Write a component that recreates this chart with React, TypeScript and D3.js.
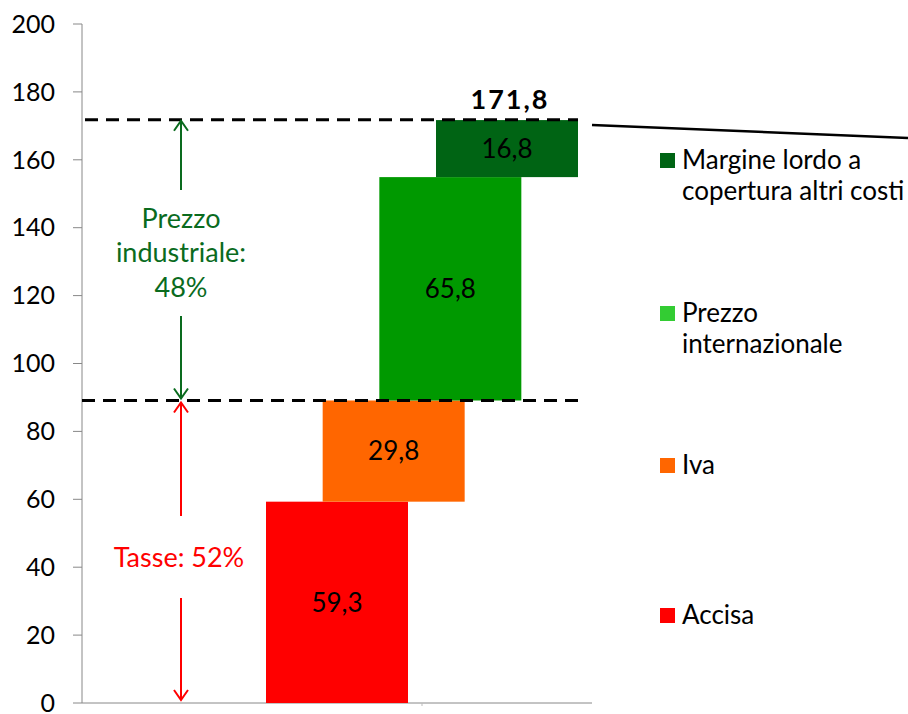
import React from "react";
import * as d3 from "d3";

const categories = ["Accisa", "Iva", "Prezzo internazionale", "Margine lordo a copertura altri costi"];
const values = [59.3, 29.8, 65.8, 16.8];
const valueLabels = ["59,3", "29,8", "65,8", "16,8"];
const barColors = ["#FF0000", "#FF6600", "#009900", "#006414"];
const legendColors = ["#FF0000", "#FF6600", "#33CC33", "#006414"];
const legendLines = [["Accisa"], ["Iva"], ["Prezzo", "internazionale"], ["Margine lordo a", "copertura altri costi"]];
const legendY = [615, 465, 313, 160];
const yTicks = [0, 20, 40, 60, 80, 100, 120, 140, 160, 180, 200];
const totalValue = 171.8;
const totalLabel = "171,8";
const taxLevel = 89.1;
const taxLabel = ["Tasse: 52%"];
const industrialLabel = ["Prezzo", "industriale:", "48%"];

const W = 908;
const H = 714;
const FONT = "Lato, 'Open Sans', sans-serif";

export default function App() {
  const y = d3.scaleLinear().domain([0, 200]).range([703, 24]);
  const x = d3.scalePoint<string>().domain(categories).range([337, 507]);
  const barW = 142;
  const axisX = 82;

  let cum = 0;
  const bars = values.map((v, i) => {
    const start = cum;
    cum += v;
    return { cat: categories[i], start, end: cum, v, label: valueLabels[i], color: barColors[i] };
  });

  const arrowX = 181;
  const head = (xx: number, yy: number, dir: number, color: string) => (
    <path
      d={`M${xx - 7},${yy - dir * 10} L${xx},${yy} L${xx + 7},${yy - dir * 10}`}
      fill="none"
      stroke={color}
      strokeWidth={2}
    />
  );
  const green = "#0A6B1E";
  const red = "#FF0000";

  return (
    <svg
      width={W}
      height={H}
      style={{ position: "absolute", left: 0, top: 0, background: "#fff" }}
      fontFamily={FONT}
    >
      {/* axis */}
      <line x1={axisX} x2={axisX} y1={y(200)} y2={y(0)} stroke="#888" strokeWidth={1} />
      <line x1={axisX} x2={592} y1={y(0)} y2={y(0)} stroke="#888" strokeWidth={1} />
      <line x1={422} x2={422} y1={y(0)} y2={y(0) + 3} stroke="#bbb" strokeWidth={1} />
      {yTicks.map((t) => (
        <g key={t}>
          <line x1={axisX - 9} x2={axisX} y1={y(t)} y2={y(t)} stroke="#888" />
          <text x={55} y={y(t)} dy="0.35em" textAnchor="end" fontSize={25} fill="#000">
            {t}
          </text>
        </g>
      ))}

      {/* bars */}
      {bars.map((b) => (
        <g key={b.cat}>
          <rect
            x={(x(b.cat) as number) - barW / 2}
            y={y(b.end)}
            width={barW}
            height={y(b.start) - y(b.end)}
            fill={b.color}
          />
          <text
            x={x(b.cat) as number}
            y={(y(b.start) + y(b.end)) / 2}
            dy="0.36em"
            textAnchor="middle"
            fontSize={26}
            fill="#000"
          >
            {b.label}
          </text>
        </g>
      ))}

      {/* dashed reference lines */}
      <line x1={85} x2={578} y1={y(totalValue)} y2={y(totalValue)} stroke="#000" strokeWidth={3} strokeDasharray="13,8" />
      <line x1={axisX} x2={578} y1={y(taxLevel)} y2={y(taxLevel)} stroke="#000" strokeWidth={3} strokeDasharray="13,8" />

      {/* total label */}
      <text x={(x(categories[3]) as number) + 3} y={y(totalValue) - 11} textAnchor="middle" fontSize={27} fontWeight="bold" letterSpacing={2} fill="#000">
        {totalLabel}
      </text>

      {/* sloping line to the right */}
      <line x1={592} y1={125} x2={908} y2={138} stroke="#000" strokeWidth={2.5} />

      {/* green arrow */}
      <line x1={arrowX} x2={arrowX} y1={y(totalValue) + 2} y2={190} stroke={green} strokeWidth={2} />
      {head(arrowX, y(totalValue) + 1, -1, green)}
      <line x1={arrowX} x2={arrowX} y1={316} y2={y(taxLevel) - 2} stroke={green} strokeWidth={2} />
      {head(arrowX, y(taxLevel) - 2, 1, green)}
      {industrialLabel.map((t, i) => (
        <text key={t} x={arrowX} y={218 + i * 34.5} dy="0.36em" textAnchor="middle" fontSize={27} fill={green}>
          {t}
        </text>
      ))}

      {/* red arrow */}
      <line x1={arrowX} x2={arrowX} y1={y(taxLevel) + 3} y2={516} stroke={red} strokeWidth={2} />
      {head(arrowX, y(taxLevel) + 2, -1, red)}
      <line x1={arrowX} x2={arrowX} y1={598} y2={y(0) - 3} stroke={red} strokeWidth={2} />
      {head(arrowX, y(0) - 3, 1, red)}
      {taxLabel.map((t) => (
        <text key={t} x={arrowX - 2} y={557} dy="0.36em" textAnchor="middle" fontSize={27} fill={red}>
          {t}
        </text>
      ))}

      {/* legend */}
      {legendLines.map((lines, i) => (
        <g key={i}>
          <rect x={660} y={legendY[i] - 7} width={15} height={15} fill={legendColors[i]} />
          {lines.map((l, j) => (
            <text key={l} x={682} y={legendY[i] + j * 31} dy="0.36em" fontSize={26} fill="#000">
              {l}
            </text>
          ))}
        </g>
      ))}
    </svg>
  );
}
